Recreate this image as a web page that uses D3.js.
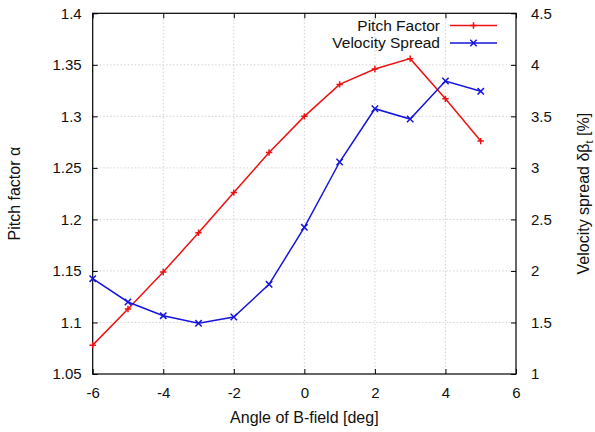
<!DOCTYPE html>
<html>
<head>
<meta charset="utf-8">
<script src="https://cdn.jsdelivr.net/npm/d3@7"></script>
<style>
  html, body { margin: 0; padding: 0; background: #fff; }
  svg text { font-family: "Liberation Sans", Arial, Helvetica, sans-serif; fill: #111; }
</style>
</head>
<body>
<svg id="chart" width="595" height="432"></svg>
<script>
// Angle of the B-field in degrees
const angles = [-6, -5, -4, -3, -2, -1, 0, 1, 2, 3, 4, 5];
// Pitch factor alpha (left axis)
const pitchFactor = [1.078, 1.113, 1.149, 1.187, 1.226, 1.265, 1.300, 1.331, 1.346, 1.356, 1.317, 1.276];
// Velocity spread in percent (right axis)
const velocitySpread = [1.925, 1.699, 1.566, 1.492, 1.553, 1.870, 2.423, 3.057, 3.574, 3.474, 3.843, 3.743];

const xTicks = [-6, -4, -2, 0, 2, 4, 6];
const yLeftTicks = [1.05, 1.1, 1.15, 1.2, 1.25, 1.3, 1.35, 1.4];
const yRightTicks = [1, 1.5, 2, 2.5, 3, 3.5, 4, 4.5];

const margin = { left: 92.7, right: 79, top: 13.3, bottom: 58 };
const W = 595, H = 432;
const svg = d3.select("#chart");

const x = d3.scaleLinear().domain([-6, 6]).range([margin.left, W - margin.right]);
const yL = d3.scaleLinear().domain([1.05, 1.4]).range([H - margin.bottom, margin.top]);
const yR = d3.scaleLinear().domain([1, 4.5]).range([H - margin.bottom, margin.top]);

const x0 = x.range()[0], x1 = x.range()[1];
const yb = yL.range()[0], yt = yL.range()[1];
const fsTick = 15, fsLegend = 15.5, fsTitle = 16;
const tickLen = 5;

// grid
const grid = svg.append("g").attr("stroke", "#c8c8c8").attr("stroke-width", 0.8).attr("stroke-dasharray", "1.5,2");
grid.selectAll("line.gx").data(xTicks.slice(1, -1)).join("line")
  .attr("x1", d => x(d)).attr("x2", d => x(d)).attr("y1", yb).attr("y2", yt);
grid.selectAll("line.gy").data(yLeftTicks.slice(1, -1)).join("line")
  .attr("x1", x0).attr("x2", x1).attr("y1", d => yL(d)).attr("y2", d => yL(d));

// axes with inward ticks
const fmtL = d => String(+d.toFixed(2));
const axB = d3.axisBottom(x).tickValues(xTicks).tickSizeInner(-tickLen).tickSizeOuter(0).tickPadding(13).tickFormat(d => d);
const axT = d3.axisTop(x).tickValues(xTicks).tickSizeInner(-tickLen).tickSizeOuter(0).tickFormat("");
const axL = d3.axisLeft(yL).tickValues(yLeftTicks).tickSizeInner(-tickLen).tickSizeOuter(0).tickPadding(11).tickFormat(fmtL);
const axR = d3.axisRight(yR).tickValues(yRightTicks).tickSizeInner(-tickLen).tickSizeOuter(0).tickPadding(15).tickFormat(d => d);

function styleAxis(g) {
  g.select(".domain").remove();
  g.selectAll(".tick line").attr("stroke", "#000").attr("stroke-width", 1);
  g.selectAll(".tick text").attr("font-size", fsTick).attr("fill", "#111")
    .style("font-family", '"Liberation Sans", Arial, Helvetica, sans-serif');
}
svg.append("g").attr("transform", `translate(0,${yb})`).call(axB).call(styleAxis);
svg.append("g").attr("transform", `translate(0,${yt})`).call(axT).call(styleAxis);
svg.append("g").attr("transform", `translate(${x0},0)`).call(axL).call(styleAxis);
svg.append("g").attr("transform", `translate(${x1},0)`).call(axR).call(styleAxis);

// frame
svg.append("rect").attr("x", x0).attr("y", yt).attr("width", x1 - x0).attr("height", yb - yt)
  .attr("fill", "none").attr("stroke", "#000").attr("stroke-width", 1.2);

// series
const red = "#ee1111", blue = "#1515dd";
const lineL = d3.line().x((d, i) => x(angles[i])).y(d => yL(d));
const lineR = d3.line().x((d, i) => x(angles[i])).y(d => yR(d));

svg.append("path").datum(pitchFactor).attr("d", lineL)
  .attr("fill", "none").attr("stroke", red).attr("stroke-width", 1.5);
svg.append("path").datum(velocitySpread).attr("d", lineR)
  .attr("fill", "none").attr("stroke", blue).attr("stroke-width", 1.5);

const plusPath = s => `M${-s},0H${s}M0,${-s}V${s}`;
const crossPath = s => `M${-s},${-s}L${s},${s}M${-s},${s}L${s},${-s}`;

svg.append("g").selectAll("path").data(pitchFactor).join("path")
  .attr("transform", (d, i) => `translate(${x(angles[i])},${yL(d)})`)
  .attr("d", plusPath(3.2)).attr("stroke", red).attr("stroke-width", 1.5).attr("fill", "none");
svg.append("g").selectAll("path").data(velocitySpread).join("path")
  .attr("transform", (d, i) => `translate(${x(angles[i])},${yR(d)})`)
  .attr("d", crossPath(3.2)).attr("stroke", blue).attr("stroke-width", 1.5).attr("fill", "none");

// legend
const legend = [
  { label: "Pitch Factor", color: red, sym: plusPath(3.2), y: 25.5 },
  { label: "Velocity Spread", color: blue, sym: crossPath(3.2), y: 43 }
];
const lg = svg.append("g");
legend.forEach(e => {
  lg.append("text").attr("x", 440).attr("y", e.y).attr("dy", "0.35em")
    .attr("text-anchor", "end").attr("font-size", fsLegend).text(e.label);
  lg.append("line").attr("x1", 450).attr("x2", 497).attr("y1", e.y).attr("y2", e.y)
    .attr("stroke", e.color).attr("stroke-width", 1.5);
  lg.append("path").attr("transform", `translate(473.5,${e.y})`).attr("d", e.sym)
    .attr("stroke", e.color).attr("stroke-width", 1.5).attr("fill", "none");
});

// axis titles
const midY = (yt + yb) / 2;
svg.append("text").attr("x", (x0 + x1) / 2).attr("y", 423).attr("text-anchor", "middle")
  .attr("font-size", fsTitle).text("Angle of B-field [deg]");

svg.append("text").attr("transform", `translate(20,${midY}) rotate(-90)`).attr("text-anchor", "middle")
  .attr("font-size", fsTitle).text("Pitch factor α");

const rt = svg.append("text").attr("transform", `translate(589,${midY}) rotate(-90)`).attr("text-anchor", "middle")
  .attr("font-size", fsTitle);
rt.append("tspan").text("Velocity spread δβ");
rt.append("tspan").attr("font-size", fsTitle * 0.7).attr("dy", 4).text("t");
rt.append("tspan").attr("dy", -4).text(" [%]");
</script>
</body>
</html>
